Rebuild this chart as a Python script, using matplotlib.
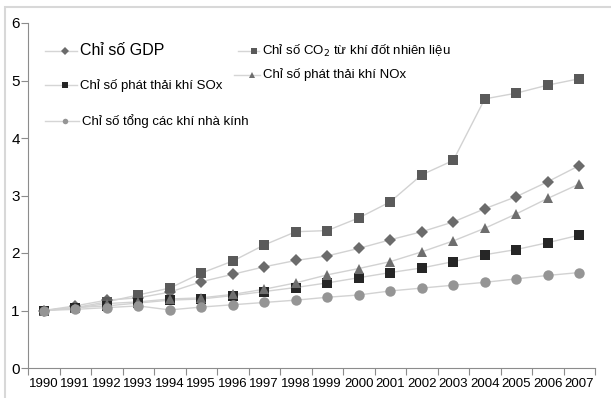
import matplotlib
matplotlib.use('Agg')
import matplotlib.pyplot as plt
from matplotlib.patches import Rectangle

plt.rcParams['font.family'] = ['Liberation Sans', 'DejaVu Sans']

# chỉ số, 1990 = 1
nam = [str(n) for n in range(1990, 2008)]
gdp = [1.0, 1.08, 1.18, 1.22, 1.32, 1.50, 1.63, 1.76, 1.87, 1.95, 2.08, 2.23, 2.37, 2.54, 2.77, 2.98, 3.24, 3.52]
co2 = [1.0, 1.05, 1.15, 1.27, 1.39, 1.65, 1.86, 2.14, 2.37, 2.39, 2.61, 2.89, 3.36, 3.61, 4.68, 4.78, 4.92, 5.03]
sox = [1.0, 1.05, 1.08, 1.13, 1.18, 1.20, 1.26, 1.33, 1.40, 1.48, 1.57, 1.66, 1.74, 1.85, 1.97, 2.06, 2.18, 2.31]
nox = [1.0, 1.04, 1.12, 1.15, 1.20, 1.22, 1.28, 1.37, 1.48, 1.62, 1.73, 1.85, 2.02, 2.21, 2.43, 2.68, 2.95, 3.20]
ghg = [1.0, 1.02, 1.05, 1.08, 1.01, 1.06, 1.10, 1.14, 1.18, 1.23, 1.27, 1.34, 1.39, 1.44, 1.49, 1.55, 1.61, 1.66]

ten = ['Chỉ số GDP', 'Chỉ số CO$_2$ từ khí đốt nhiên liệu', 'Chỉ số phát thải khí SOx',
       'Chỉ số phát thải khí NOx', 'Chỉ số tổng các khí nhà kính']
chuoi = [gdp, co2, sox, nox, ghg]
kieu = [('D', '#6b6b6b', 6.5), ('s', '#5a5a5a', 7.5), ('s', '#262626', 7.5),
        ('^', '#6e6e6e', 7.5), ('o', '#959595', 7.5)]

fig = plt.figure(figsize=(6.11, 3.98), dpi=100)
fig.patches.append(Rectangle((5 / 611, -0.1), 1.2, (398 - 7) / 398 + 0.1, transform=fig.transFigure,
                             fill=False, edgecolor='#d8d8d8', linewidth=1.5))
ax = fig.add_axes([28 / 611, 30 / 398, 567 / 611, 345 / 398])

x = list(range(len(nam)))
for y, (m, c, s) in zip(chuoi, kieu):
    ax.plot(x, y, '-', color='#d2d2d2', linewidth=1.0, zorder=1)
for y, (m, c, s) in zip(chuoi, kieu):
    ax.plot(x, y, linestyle='none', marker=m, color=c, markersize=s, markeredgewidth=0, zorder=2)

ax.set_xlim(-0.5, len(nam) - 0.5)
ax.set_ylim(0, 6)
ax.set_xticks([i + 0.5 for i in range(-1, len(nam))])
ax.set_xticklabels([])
ax.set_xticks(x, minor=True)
ax.set_xticklabels(nam, minor=True, fontsize=9.5)
ax.tick_params(axis='x', which='minor', length=0, pad=7)
ax.tick_params(axis='x', which='major', length=5, color='#8c8c8c')
ax.set_yticks(range(7))
ax.tick_params(axis='y', length=5, color='#8c8c8c', labelsize=11, pad=1)
for s in ['top', 'right']:
    ax.spines[s].set_visible(False)
for s in ['left', 'bottom']:
    ax.spines[s].set_color('#8c8c8c')

# chú thích: (đầu đường, điểm, chữ, y, cỡ chữ) theo tọa độ trục
vitri = [(0.03, 0.065, 0.092, 0.92, 11.5),
         (0.37, 0.398, 0.413, 0.92, 9.5),
         (0.03, 0.065, 0.092, 0.82, 9.5),
         (0.363, 0.395, 0.415, 0.85, 9.5),
         (0.03, 0.065, 0.095, 0.715, 9.5)]
for (lx, mx, tx, ty, fs), t, (m, c, s) in zip(vitri, ten, kieu):
    ax.plot([lx, tx - 0.005], [ty, ty], '-', color='#d5d5d5', linewidth=1, transform=ax.transAxes, clip_on=False)
    ax.plot([mx], [ty], marker=m, color=c, markersize=4, markeredgewidth=0, transform=ax.transAxes, clip_on=False)
    ax.text(tx, ty, t, fontsize=fs, va='center', ha='left', transform=ax.transAxes)

fig.savefig('out.png', dpi=100)
